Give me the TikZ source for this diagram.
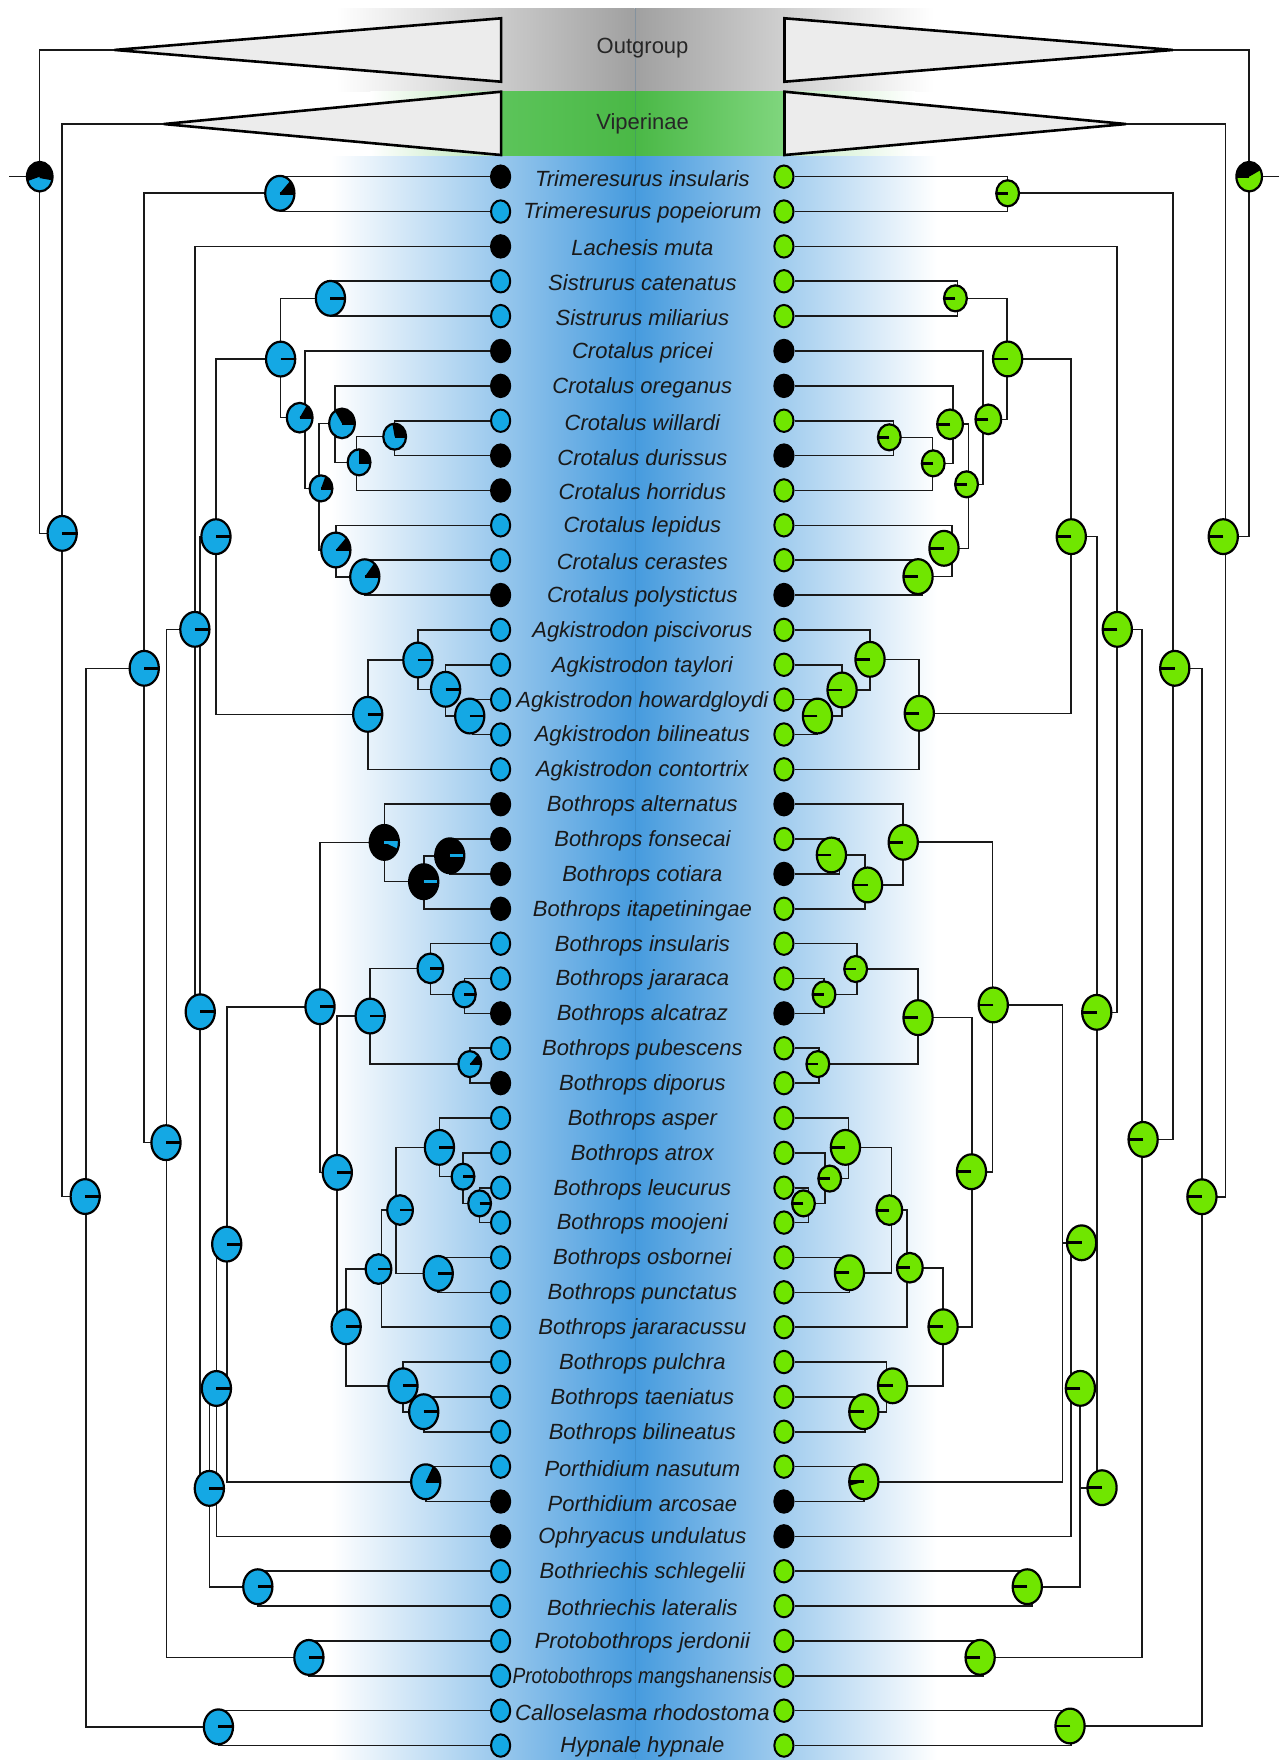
\documentclass[tikz,border=0pt]{standalone}
\usepackage{fontspec}
\setmainfont{Liberation Sans}
\usepackage{graphicx}
\usetikzlibrary{shapes.geometric}

\definecolor{cblue}{RGB}{20,168,228}
\definecolor{cgreen}{RGB}{112,230,0}
\definecolor{bandblue}{RGB}{70,155,222}
\definecolor{bandgray}{RGB}{160,160,160}
\definecolor{bandgreenA}{RGB}{92,196,90}
\definecolor{bandgreenB}{RGB}{74,184,70}
\definecolor{bandgreenC}{RGB}{128,214,126}
\definecolor{trifill}{RGB}{236,236,236}

\pgfdeclarelayer{bands}
\pgfdeclarelayer{edges}
\pgfsetlayers{bands,edges,main}

\tikzset{
  tipnode/.style={ellipse, draw=black, line width=1pt, inner sep=0pt,
    minimum width=9.6pt, minimum height=11.2pt, fill=#1},
  pieL/.style={ellipse, inner sep=0pt, minimum width=14.6pt, minimum height=17.4pt},
  pieM/.style={ellipse, inner sep=0pt, minimum width=12.8pt, minimum height=14.8pt},
  pieS/.style={ellipse, inner sep=0pt, minimum width=11.4pt, minimum height=13pt},
  piefill/.style n args={4}{draw=black, line width=1.1pt, fill=#1,
    path picture={
      \fill[#2] (path picture bounding box.center) -- ++(#3:20pt)
        arc[start angle=#3, end angle=#4, radius=20pt] -- cycle;
      \draw[#2, line width=1.4pt] (path picture bounding box.center) -- ++(#3:20pt);
    }},
  lpie/.style={piefill={cblue}{black}{0}{#1}}, lpie/.default=3,
  rpie/.style={piefill={cgreen}{black}{180}{#1}}, rpie/.default=177,
  branch/.style={line width=0.8pt, draw=black!90},
  taxon/.style={font=\fontsize{11}{13}\selectfont\itshape, text=black!90, inner sep=0pt},
  cladename/.style={font=\fontsize{11}{13}\selectfont, text=black!85, inner sep=0pt},
  clade/.style={draw=black, line width=1.3pt, fill=trifill, line join=miter},
}

% joint of a tree node (vertical line x, y) and its pie chart (pie x, y)
\newcommand\treenode[5]{%
  \coordinate (#1) at (#2,#4);
  \node[#5] (p#1) at (#3,#4) {};}
% elbow connectors from a node to each of its children
\newcommand\kids[2]{\foreach \c in {#2}{\draw[branch] (#1) |- (\c);}}

\begin{document}
\begin{tikzpicture}[x=0.5612pt, y=-0.5612pt]
\useasboundingbox (0,0) rectangle (1144,1568);

% ---------- colour bands ----------
\begin{pgfonlayer}{bands}
  \shade[left color=white, right color=bandgray] (299,7.4) rectangle (565.4,81.7);
  \shade[left color=bandgray, right color=white] (565.4,7.4) rectangle (831.7,81.7);
  \shade[left color=white, right color=bandgreenA!45!white] (330,81.7) rectangle (446.5,139.6);
  \shade[left color=bandgreenC!45!white, right color=white] (698.9,81.7) rectangle (815,139.6);
  \shade[left color=bandgreenA, right color=bandgreenB] (446.5,81.7) rectangle (566,139.6);
  \shade[left color=bandgreenB, right color=bandgreenC] (566,81.7) rectangle (698.9,139.6);
  \shade[left color=white, right color=bandblue] (295,139.6) rectangle (566,1568);
  \shade[left color=bandblue, right color=white] (566,139.6) rectangle (835,1568);
  \draw[bandblue!70!black, opacity=0.25, line width=0.6pt] (566,7.4) -- (566,1568);
\end{pgfonlayer}

% ---------- collapsed clades ----------
\coordinate (ogLa) at (102.1,44.5);
\coordinate (vpLa) at (145.9,110.5);
\coordinate (ogRa) at (1044.9,44.5);
\coordinate (vpRa) at (1003.2,110.5);
\draw[clade] (ogLa) -- (446.5,16.3) -- (446.5,72.8) -- cycle;
\draw[clade] (vpLa) -- (446.5,81.7) -- (446.5,138.1) -- cycle;
\draw[clade] (ogRa) -- (698.9,16.3) -- (698.9,72.8) -- cycle;
\draw[clade] (vpRa) -- (698.9,81.7) -- (698.9,138.1) -- cycle;
\node[cladename] (og) at (572.5,43) {Outgroup};
\node[cladename] (vp) at (572.5,110.5) {Viperinae};

% ---------- taxa ----------
\foreach \i/\txt/\lc/\rc in {
  1/Trimeresurus insularis/black/cgreen,
  2/Trimeresurus popeiorum/cblue/cgreen,
  3/Lachesis muta/black/cgreen,
  4/Sistrurus catenatus/cblue/cgreen,
  5/Sistrurus miliarius/cblue/cgreen,
  6/Crotalus pricei/black/black,
  7/Crotalus oreganus/black/black,
  8/Crotalus willardi/cblue/cgreen,
  9/Crotalus durissus/black/black,
  10/Crotalus horridus/black/cgreen,
  11/Crotalus lepidus/cblue/cgreen,
  12/Crotalus cerastes/cblue/cgreen,
  13/Crotalus polystictus/black/black,
  14/Agkistrodon piscivorus/cblue/cgreen,
  15/Agkistrodon taylori/cblue/cgreen,
  16/Agkistrodon howardgloydi/cblue/cgreen,
  17/Agkistrodon bilineatus/cblue/cgreen,
  18/Agkistrodon contortrix/cblue/cgreen,
  19/Bothrops alternatus/black/black,
  20/Bothrops fonsecai/black/cgreen,
  21/Bothrops cotiara/black/black,
  22/Bothrops itapetiningae/black/cgreen,
  23/Bothrops insularis/cblue/cgreen,
  24/Bothrops jararaca/cblue/cgreen,
  25/Bothrops alcatraz/black/black,
  26/Bothrops pubescens/cblue/cgreen,
  27/Bothrops diporus/black/cgreen,
  28/Bothrops asper/cblue/cgreen,
  29/Bothrops atrox/cblue/cgreen,
  30/Bothrops leucurus/cblue/cgreen,
  31/Bothrops moojeni/cblue/cgreen,
  32/Bothrops osbornei/cblue/cgreen,
  33/Bothrops punctatus/cblue/cgreen,
  34/Bothrops jararacussu/cblue/cgreen,
  35/Bothrops pulchra/cblue/cgreen,
  36/Bothrops taeniatus/cblue/cgreen,
  37/Bothrops bilineatus/cblue/cgreen,
  38/Porthidium nasutum/cblue/cgreen,
  39/Porthidium arcosae/black/black,
  40/Ophryacus undulatus/black/black,
  41/Bothriechis schlegelii/cblue/cgreen,
  42/Bothriechis lateralis/cblue/cgreen,
  43/Protobothrops jerdonii/cblue/cgreen,
  44/{\scalebox{0.87}[1]{Protobothrops mangshanensis}}/cblue/cgreen,
  45/Calloselasma rhodostoma/cblue/cgreen,
  46/Hypnale hypnale/cblue/cgreen}{
  \pgfmathsetmacro\yy{157.4+31.06*(\i-1)}
  \node[tipnode=\lc] (tl\i) at (446,\yy) {};
  \node[tipnode=\rc] (tr\i) at (698.4,\yy) {};
  \node[taxon] (lab\i) at (572.3,\yy+1.5) {\txt};
}

% ---------- left tree ----------
\coordinate (stubL) at (8.1,157.4);
\treenode{L0}{35.1}{35.4}{157.4}{pieM,piefill={cblue}{black}{-10}{200}}
\treenode{L1}{55.4}{55.4}{475.2}{pieL,lpie}
\treenode{L2}{76.5}{75.9}{1066}{pieL,lpie}
\treenode{L3}{128.5}{128.5}{595.4}{pieL,lpie}
\treenode{L4}{148.5}{147.9}{1018}{pieL,lpie}
\treenode{L5}{173.6}{173.6}{560.7}{pieL,lpie}
\treenode{L6}{178.4}{178.4}{901.4}{pieL,lpie}
\treenode{L7}{192.4}{192.4}{478.1}{pieL,lpie}
\treenode{L8}{186.5}{186.5}{1326}{pieL,lpie}
\treenode{L9}{192.8}{192.8}{1237}{pieL,lpie}
\treenode{L10}{202}{202}{1108.4}{pieL,lpie}
\treenode{LT}{250}{249.3}{172.2}{pieL,lpie=50}
\treenode{LSC}{250}{250}{319.9}{pieL,lpie}
\treenode{LS}{295}{294.4}{265.8}{pieL,lpie}
\treenode{LC}{271.5}{267}{372.1}{pieM,lpie=60}
\treenode{LC2}{284.4}{286}{435.1}{pieS,lpie=70}
\treenode{LC3}{298.4}{304.7}{377.2}{pieM,lpie=120}
\treenode{LC5}{317.6}{319.9}{411.9}{pieS,lpie=90}
\treenode{LC6}{351.6}{351.6}{389}{pieS,lpie=100}
\treenode{LC4}{299.2}{299.2}{490}{pieL,lpie=50}
\treenode{LC7}{325}{325}{513.8}{pieL,lpie=55}
\treenode{LA}{327.6}{327.6}{636.4}{pieL,lpie}
\treenode{LA2}{372.3}{372.3}{588}{pieL,lpie}
\treenode{LA3}{397}{397}{614.1}{pieL,lpie}
\treenode{LA4}{421}{418.5}{637.9}{pieL,lpie}
\treenode{LB}{285.1}{285.1}{896.9}{pieL,lpie}
\treenode{LBA}{342.4}{342.4}{750.5}{pieL,piefill={black}{cblue}{0}{-25}}
\treenode{LBA2}{377.5}{377.5}{785.5}{pieL,piefill={black}{cblue}{0}{-2}}
\treenode{LBA3}{400.7}{400.7}{762.4}{pieL,piefill={black}{cblue}{0}{-2}}
\treenode{LBM}{300}{300.5}{1044.5}{pieL,lpie}
\treenode{LBJ}{329.8}{329.8}{905.2}{pieL,lpie}
\treenode{LBK}{383.4}{383.4}{862.7}{pieM,lpie}
\treenode{LBK2}{413.7}{413.7}{885.9}{pieS,lpie}
\treenode{LBL}{418.5}{418.5}{948}{pieS,lpie=50}
\treenode{LBN}{308.4}{308.4}{1182}{pieL,lpie}
\treenode{LBO}{339.8}{337.2}{1130.6}{pieM,lpie}
\treenode{LBQ}{352.7}{356.4}{1078}{pieM,lpie}
\treenode{LBR}{391.5}{391.5}{1022.2}{pieL,lpie}
\treenode{LBT}{412.5}{412.5}{1048.3}{pieS,lpie}
\treenode{LBU}{427.3}{427.3}{1072.1}{pieS,lpie}
\treenode{LBS}{390.4}{390.4}{1134.5}{pieL,lpie}
\treenode{LBP}{359}{359}{1234.6}{pieL,lpie}
\treenode{LBV}{377.5}{377.5}{1257.7}{pieL,lpie}
\treenode{LPo}{379.3}{379.3}{1320.1}{pieL,lpie=65}
\treenode{LBo}{229.7}{229.7}{1413.6}{pieL,lpie}
\treenode{LPr}{275.2}{275.2}{1476.6}{pieL,lpie}
\treenode{LCa}{194.6}{194.6}{1538.4}{pieL,lpie}

% ---------- right tree ----------
\coordinate (stubR) at (1139.5,157.4);
\treenode{R0}{1112.9}{1112.9}{157.4}{pieM,piefill={cgreen}{black}{180}{30}}
\treenode{R1}{1091.7}{1089.8}{478.1}{pieL,rpie}
\treenode{R2}{1070.8}{1070.8}{1066.2}{pieL,rpie}
\treenode{R3}{1044.8}{1046.6}{595.4}{pieL,rpie}
\treenode{R4}{1017.4}{1018.4}{1015.1}{pieL,rpie}
\treenode{R5}{995.4}{995.4}{560.7}{pieL,rpie}
\treenode{R6}{977.1}{977.1}{901.9}{pieL,rpie}
\treenode{R7}{954.4}{954.4}{478.1}{pieL,rpie}
\treenode{R8}{962.4}{981.8}{1325.4}{pieL,rpie}
\treenode{R9}{954.4}{962.5}{1236.9}{pieL,rpie}
\treenode{R10}{946.5}{963.6}{1107.2}{pieL,rpie}
\treenode{RT}{897.7}{897.7}{172.2}{pieS,rpie}
\treenode{RSC}{897}{897.7}{319.8}{pieL,rpie}
\treenode{RS}{853}{851.2}{265.8}{pieS,rpie}
\treenode{RC}{875.7}{880.5}{373.6}{pieM,rpie}
\treenode{RC2}{862.9}{861.1}{431.5}{pieS,rpie}
\treenode{RC3}{849}{846.4}{378}{pieM,rpie}
\treenode{RC5}{830.7}{831.4}{412.8}{pieS,rpie}
\treenode{RC6}{796}{792.3}{389.6}{pieS,rpie}
\treenode{RC4}{848.3}{841}{488.5}{pieL,rpie}
\treenode{RC7}{822}{817.9}{513.7}{pieL,rpie}
\treenode{RA}{819}{819}{635.5}{pieL,rpie}
\treenode{RA2}{775.1}{775.1}{587.4}{pieL,rpie}
\treenode{RA3}{750.2}{750.2}{614.7}{pieL,rpie}
\treenode{RA4}{728.3}{728.3}{637.9}{pieL,rpie}
\treenode{RB}{884.1}{884.9}{895.3}{pieL,rpie}
\treenode{RBA}{804.7}{804.7}{750.4}{pieL,rpie}
\treenode{RBA2}{770.7}{772.9}{788.4}{pieL,rpie}
\treenode{RBA3}{748}{740.7}{761.7}{pieL,rpie}
\treenode{RB2}{865.8}{865.5}{1043.9}{pieL,rpie}
\treenode{RBM}{817.9}{817.9}{906.6}{pieL,rpie}
\treenode{RBK}{763.4}{762.3}{863.3}{pieS,rpie}
\treenode{RBK2}{734.1}{734.1}{885.9}{pieS,rpie}
\treenode{RBL}{729.4}{728.6}{948}{pieS,rpie}
\treenode{RBN}{840.2}{840.2}{1182}{pieL,rpie}
\treenode{RBO}{808}{810.6}{1129.4}{pieM,rpie}
\treenode{RBQ}{794.1}{792.3}{1078.1}{pieM,rpie}
\treenode{RBR}{756.1}{753.2}{1022.2}{pieL,rpie}
\treenode{RBT}{734.9}{739.2}{1050}{pieS,rpie}
\treenode{RBU}{720.2}{715.8}{1072.1}{pieS,rpie}
\treenode{RBS}{756.8}{756.8}{1133.9}{pieL,rpie}
\treenode{RBP}{789.7}{795.2}{1234.6}{pieL,rpie}
\treenode{RBV}{770.7}{769.6}{1257.7}{pieL,rpie}
\treenode{RPo}{769.6}{769.6}{1320.1}{pieL,rpie=195}
\treenode{RBo}{919.6}{915.2}{1413.6}{pieL,rpie}
\treenode{RPr}{875.7}{873.2}{1476.5}{pieL,rpie}
\treenode{RCa}{954.4}{953.3}{1537.7}{pieL,rpie}

% ---------- branches ----------
\begin{pgfonlayer}{edges}
  \draw[branch] (stubL) -- (L0);
  \kids{L0}{ogLa,L1}
  \kids{L1}{vpLa,L2}
  \kids{L2}{L3,LCa}
  \kids{L3}{LT,L4}
  \kids{L4}{L5,LPr}
  \kids{L5}{tl3,L6}
  \kids{L6}{L7,L8}
  \kids{L7}{LSC,LA}
  \kids{L8}{L9,LBo}
  \kids{L9}{L10,tl40}
  \kids{L10}{LB,LPo}
  \kids{LT}{tl1,tl2}
  \kids{LSC}{LS,LC}
  \kids{LS}{tl4,tl5}
  \kids{LC}{tl6,LC2}
  \kids{LC2}{LC3,LC4}
  \kids{LC3}{tl7,LC5}
  \kids{LC5}{LC6,tl10}
  \kids{LC6}{tl8,tl9}
  \kids{LC4}{tl11,LC7}
  \kids{LC7}{tl12,tl13}
  \kids{LA}{LA2,tl18}
  \kids{LA2}{tl14,LA3}
  \kids{LA3}{tl15,LA4}
  \kids{LA4}{tl16,tl17}
  \kids{LB}{LBA,LBM}
  \kids{LBA}{tl19,LBA2}
  \kids{LBA2}{LBA3,tl22}
  \kids{LBA3}{tl20,tl21}
  \kids{LBM}{LBJ,LBN}
  \kids{LBJ}{LBK,LBL}
  \kids{LBK}{tl23,LBK2}
  \kids{LBK2}{tl24,tl25}
  \kids{LBL}{tl26,tl27}
  \kids{LBN}{LBO,LBP}
  \kids{LBO}{LBQ,tl34}
  \kids{LBQ}{LBR,LBS}
  \kids{LBR}{tl28,LBT}
  \kids{LBT}{tl29,LBU}
  \kids{LBU}{tl30,tl31}
  \kids{LBS}{tl32,tl33}
  \kids{LBP}{tl35,LBV}
  \kids{LBV}{tl36,tl37}
  \kids{LPo}{tl38,tl39}
  \kids{LBo}{tl41,tl42}
  \kids{LPr}{tl43,tl44}
  \kids{LCa}{tl45,tl46}

  \draw[branch] (stubR) -- (R0);
  \kids{R0}{ogRa,R1}
  \kids{R1}{vpRa,R2}
  \kids{R2}{R3,RCa}
  \kids{R3}{RT,R4}
  \kids{R4}{R5,RPr}
  \kids{R5}{tr3,R6}
  \kids{R6}{R7,R8}
  \kids{R7}{RSC,RA}
  \kids{R8}{R9,RBo}
  \kids{R9}{R10,tr40}
  \kids{R10}{RB,RPo}
  \kids{RT}{tr1,tr2}
  \kids{RSC}{RS,RC}
  \kids{RS}{tr4,tr5}
  \kids{RC}{tr6,RC2}
  \kids{RC2}{RC3,RC4}
  \kids{RC3}{tr7,RC5}
  \kids{RC5}{RC6,tr10}
  \kids{RC6}{tr8,tr9}
  \kids{RC4}{tr11,RC7}
  \kids{RC7}{tr12,tr13}
  \kids{RA}{RA2,tr18}
  \kids{RA2}{tr14,RA3}
  \kids{RA3}{tr15,RA4}
  \kids{RA4}{tr16,tr17}
  \kids{RB}{RBA,RB2}
  \kids{RBA}{tr19,RBA2}
  \kids{RBA2}{RBA3,tr22}
  \kids{RBA3}{tr20,tr21}
  \kids{RB2}{RBM,RBN}
  \kids{RBM}{RBK,RBL}
  \kids{RBK}{tr23,RBK2}
  \kids{RBK2}{tr24,tr25}
  \kids{RBL}{tr26,tr27}
  \kids{RBN}{RBO,RBP}
  \kids{RBO}{RBQ,tr34}
  \kids{RBQ}{RBR,RBS}
  \kids{RBR}{tr28,RBT}
  \kids{RBT}{tr29,RBU}
  \kids{RBU}{tr30,tr31}
  \kids{RBS}{tr32,tr33}
  \kids{RBP}{tr35,RBV}
  \kids{RBV}{tr36,tr37}
  \kids{RPo}{tr38,tr39}
  \kids{RBo}{tr41,tr42}
  \kids{RPr}{tr43,tr44}
  \kids{RCa}{tr45,tr46}
\end{pgfonlayer}
\end{tikzpicture}
\end{document}
